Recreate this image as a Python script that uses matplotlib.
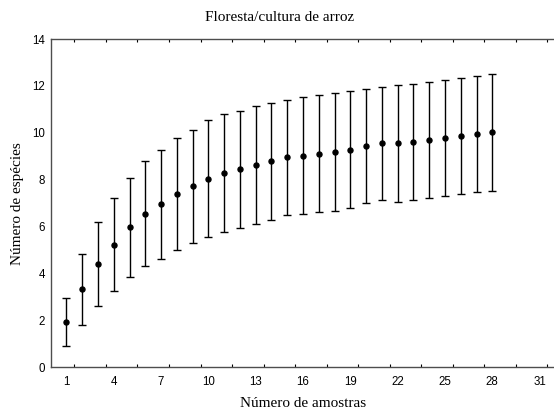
import numpy as np
import matplotlib
matplotlib.use("Agg")
import matplotlib.pyplot as plt

# mean species count per sample size, with the half-width of its interval
n_samples = list(range(1, 29))
mean_species = [1.93, 3.33, 4.41, 5.23, 5.97, 6.55, 6.95, 7.39, 7.72, 8.04,
                8.28, 8.45, 8.64, 8.79, 8.96, 9.03, 9.12, 9.20, 9.29, 9.45,
                9.55, 9.55, 9.62, 9.70, 9.79, 9.87, 9.96, 10.03]
half_width = [1.01, 1.52, 1.80, 1.98, 2.12, 2.24, 2.32, 2.40, 2.42, 2.49,
              2.51, 2.50, 2.51, 2.49, 2.46, 2.50, 2.51, 2.52, 2.51, 2.43,
              2.42, 2.48, 2.47, 2.47, 2.47, 2.48, 2.48, 2.49]
x_labels = list(range(1, 32, 3))
y_labels = list(range(0, 15, 2))

fig = plt.figure(figsize=(5.54, 4.16), dpi=100)
ax = fig.add_axes([0.0915, 0.117, 0.911, 0.789])

ax.errorbar(n_samples, mean_species, yerr=half_width, fmt='o', color='black',
            ms=3.6, elinewidth=1.0, capsize=3, capthick=1.0)

ax.set_xlim(0, 32)
ax.set_ylim(0, 14)

# tick marks every two samples, labels every three
ax.set_xticks(np.arange(1.5, 32, 2))
ax.set_xticklabels([])
ax.set_xticks(x_labels, minor=True)
ax.set_xticklabels([str(v) for v in x_labels], minor=True,
                   family='Liberation Sans', fontsize=8.3)
ax.tick_params(axis='x', which='major', direction='in', length=2, width=0.8,
               top=True, color='black')
ax.tick_params(axis='x', which='minor', length=0, pad=6.5)

ax.set_yticks(y_labels)
ax.set_yticklabels([str(v) for v in y_labels], family='Liberation Sans', fontsize=8.3)
ax.tick_params(axis='y', length=0, pad=4.2)

ax.spines['right'].set_visible(False)
for side in ['left', 'bottom', 'top']:
    ax.spines[side].set_color('#4d4d4d')
    ax.spines[side].set_linewidth(1.0)

ax.set_xlabel('Número de amostras', family='Liberation Serif', fontsize=11, labelpad=6)
ax.set_ylabel('Número de espécies', family='Liberation Serif', fontsize=11, labelpad=5.5)
fig.text(0.505, 0.957, 'Floresta/cultura de arroz', ha='center', va='center',
         family='Liberation Serif', fontsize=11)

fig.savefig('out.png', dpi=100)
